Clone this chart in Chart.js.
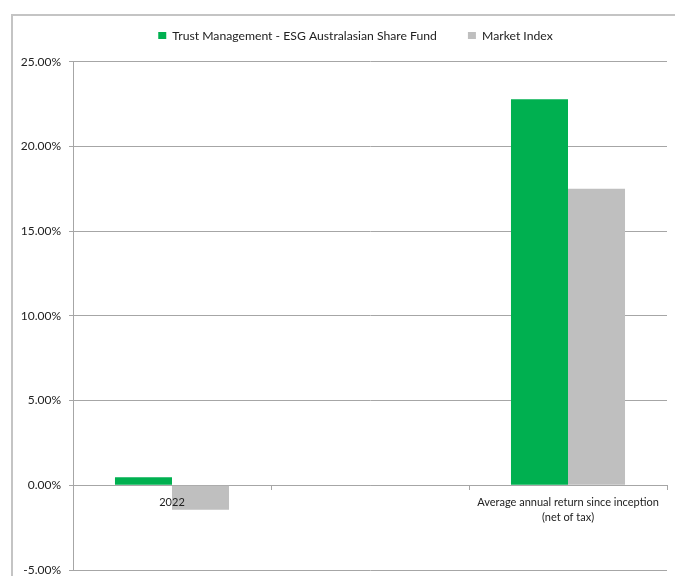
<!DOCTYPE html>
<html>
<head>
<meta charset="utf-8">
<script src="https://cdn.jsdelivr.net/npm/chart.js@4.4.0/dist/chart.umd.min.js"></script>
<style>
  html, body { margin: 0; padding: 0; background: #fff; overflow: hidden; }
  #wrap { position: relative; width: 675px; height: 576px; }
</style>
</head>
<body>
<div id="wrap"><canvas id="returns-chart" width="675" height="576"></canvas></div>
<script>
// categories (middle one is an empty slot in the original sheet)
const categories = ['2022', '', ['Average annual return since inception', '(net of tax)']];
const fundLabel = 'Trust Management - ESG Australasian Share Fund';
const indexLabel = 'Market Index';
const fundReturns = [0.47, null, 22.78];
const indexReturns = [-1.45, null, 17.5];
const yTicks = [-5, 0, 5, 10, 15, 20, 25];

const GREEN = '#00B050';
const GREY = '#BFBFBF';
const GRID = '#A6A6A6';
const FONT = 'Lato, "Open Sans", sans-serif';

// outer frame of the chart object, cut off on the right and bottom
const frame = {
    id: 'frame',
    beforeDraw(chart) {
        const ctx = chart.ctx;
        ctx.save();
        ctx.strokeStyle = '#C4C4C4';
        ctx.lineWidth = 2;
        ctx.strokeRect(12, 15, 720, 620);
        ctx.restore();
    }
};

// excel centres the legend a bit right of the canvas and sits it higher
const legendNudge = {
    id: 'legendNudge',
    afterLayout(chart) {
        const lg = chart.legend;
        lg.left = 44;
        lg.top -= 10;
        lg.bottom -= 10;
    }
};

const ctx = document.getElementById('returns-chart');
const chart = new Chart(ctx, {
    type: 'bar',
    data: {
        labels: categories,
        datasets: [
            { label: fundLabel, data: fundReturns, backgroundColor: GREEN, borderWidth: 0 },
            { label: indexLabel, data: indexReturns, backgroundColor: GREY, borderWidth: 0 }
        ]
    },
    options: {
        responsive: false,
        animation: false,
        devicePixelRatio: 1,
        categoryPercentage: 0.576,
        barPercentage: 1.0,
        layout: { padding: { left: 0, right: 8, top: 8.5, bottom: 6 } },
        scales: {
            x: {
                position: { y: 0 },
                grid: { drawOnChartArea: false, drawTicks: true, tickLength: 4, color: GRID, offset: true },
                border: { display: true, color: GRID, width: 1 },
                ticks: {
                    z: 1, // category labels sit on top of the bars, as in excel
                    color: '#222',
                    font: { family: FONT, size: 11, lineHeight: 1.36 },
                    padding: 5.5,
                    maxRotation: 0,
                    autoSkip: false
                }
            },
            y: {
                min: -5,
                max: 25,
                afterBuildTicks(scale) { scale.ticks = yTicks.map(v => ({ value: v })); },
                afterFit(scale) {
                    scale.width = 73;
                    scale.paddingTop = 0;
                    scale.paddingBottom = 0;
                },
                grid: { color: GRID, lineWidth: 1, tickLength: 4, drawTicks: true },
                border: { display: true, color: GRID, width: 1 },
                ticks: {
                    color: '#222',
                    font: { family: FONT, size: 12 },
                    padding: 8,
                    callback: v => v.toFixed(2) + '%'
                }
            }
        },
        plugins: {
            legend: {
                position: 'top',
                labels: {
                    boxWidth: 8,
                    boxHeight: 7,
                    padding: 31,
                    color: '#222',
                    font: { family: FONT, size: 12.2 }
                }
            },
            tooltip: { enabled: false }
        }
    },
    plugins: [frame, legendNudge]
});
</script>
</body>
</html>
